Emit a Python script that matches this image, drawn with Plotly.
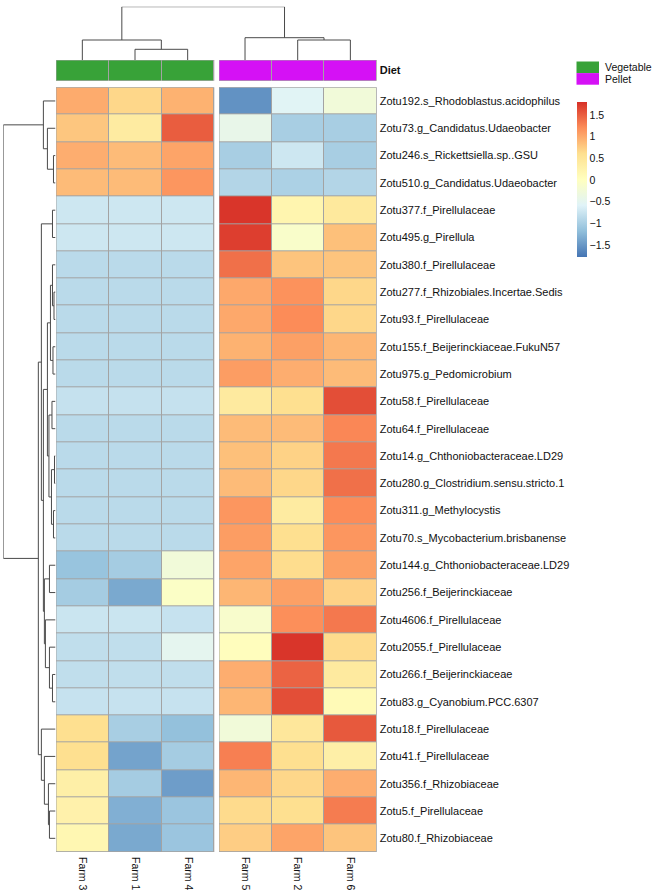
"""
Heatmap of scaled Zotu abundances by farm, pheatmap style
"""
import plotly.graph_objects as go

W, H = 654, 893
FONT = "Liberation Sans, Arial, sans-serif"

farms_left = ["Farm 3", "Farm 1", "Farm 4"]
farms_right = ["Farm 5", "Farm 2", "Farm 6"]
diet_left = ["Vegetable", "Vegetable", "Vegetable"]
diet_right = ["Pellet", "Pellet", "Pellet"]

otus = [
    "Zotu192.s_Rhodoblastus.acidophilus",
    "Zotu73.g_Candidatus.Udaeobacter",
    "Zotu246.s_Rickettsiella.sp..GSU",
    "Zotu510.g_Candidatus.Udaeobacter",
    "Zotu377.f_Pirellulaceae",
    "Zotu495.g_Pirellula",
    "Zotu380.f_Pirellulaceae",
    "Zotu277.f_Rhizobiales.Incertae.Sedis",
    "Zotu93.f_Pirellulaceae",
    "Zotu155.f_Beijerinckiaceae.FukuN57",
    "Zotu975.g_Pedomicrobium",
    "Zotu58.f_Pirellulaceae",
    "Zotu64.f_Pirellulaceae",
    "Zotu14.g_Chthoniobacteraceae.LD29",
    "Zotu280.g_Clostridium.sensu.stricto.1",
    "Zotu311.g_Methylocystis",
    "Zotu70.s_Mycobacterium.brisbanense",
    "Zotu144.g_Chthoniobacteraceae.LD29",
    "Zotu256.f_Beijerinckiaceae",
    "Zotu4606.f_Pirellulaceae",
    "Zotu2055.f_Pirellulaceae",
    "Zotu266.f_Beijerinckiaceae",
    "Zotu83.g_Cyanobium.PCC.6307",
    "Zotu18.f_Pirellulaceae",
    "Zotu41.f_Pirellulaceae",
    "Zotu356.f_Rhizobiaceae",
    "Zotu5.f_Pirellulaceae",
    "Zotu80.f_Rhizobiaceae",
]

# row-scaled values, columns Farm 3, Farm 1, Farm 4
vals_left = [
    [1.00, 0.68, 0.95],
    [0.80, 0.40, 1.52],
    [0.98, 0.88, 1.05],
    [0.88, 0.88, 1.15],
    [-0.72, -0.72, -0.72],
    [-0.72, -0.72, -0.72],
    [-0.86, -0.86, -0.86],
    [-0.86, -0.86, -0.86],
    [-0.86, -0.86, -0.86],
    [-0.86, -0.86, -0.86],
    [-0.86, -0.86, -0.86],
    [-0.78, -0.78, -0.78],
    [-0.86, -0.86, -0.86],
    [-0.86, -0.86, -0.86],
    [-0.86, -0.86, -0.86],
    [-0.86, -0.86, -0.86],
    [-0.86, -0.86, -0.86],
    [-1.12, -1.02, -0.25],
    [-1.02, -1.35, -0.05],
    [-0.74, -0.74, -0.77],
    [-0.82, -0.82, -0.48],
    [-0.82, -0.82, -0.82],
    [-0.77, -0.77, -0.77],
    [0.62, -1.00, -1.15],
    [0.62, -1.40, -1.02],
    [0.32, -1.02, -1.45],
    [0.28, -1.30, -1.10],
    [0.18, -1.35, -1.10],
]

# row-scaled values, columns Farm 5, Farm 2, Farm 6
vals_right = [
    [-1.54, -0.55, -0.25],
    [-0.42, -1.00, -1.00],
    [-1.00, -0.72, -1.00],
    [-0.92, -0.97, -0.92],
    [1.78, 0.22, 0.45],
    [1.72, -0.10, 0.85],
    [1.40, 0.82, 0.82],
    [1.02, 1.18, 0.68],
    [1.02, 1.22, 0.68],
    [0.95, 1.08, 0.92],
    [1.10, 0.98, 0.88],
    [0.42, 0.62, 1.62],
    [0.88, 0.88, 1.25],
    [0.85, 0.72, 1.35],
    [0.88, 0.68, 1.40],
    [1.15, 0.40, 1.22],
    [1.10, 0.62, 1.15],
    [1.05, 0.64, 1.08],
    [0.92, 1.08, 0.72],
    [-0.12, 1.20, 1.35],
    [0.05, 1.78, 0.65],
    [0.98, 1.48, 0.42],
    [0.92, 1.62, 0.12],
    [-0.25, 0.48, 1.55],
    [1.30, 0.62, 0.32],
    [0.92, 0.68, 0.98],
    [0.65, 0.62, 1.32],
    [0.75, 1.05, 0.82],
]

# hierarchical clustering trees: (left, right, height), leaves = display index
row_tree = (
    (0, (1, (2, 3, 2.0), 8.0), 12.0),
    (
        (
            (4, 5, 3.0),
            (
                (
                    ((6, (7, 8, 1.5), 3.0), (9, 10, 2.5), 5.0),
                    ((11, 12, 3.5), ((13, 14, 1.0), (15, 16, 2.0), 4.0), 6.5),
                    8.0,
                ),
                ((17, 18, 6.0), (19, (20, (21, 22, 3.0), 6.0), 10.0), 11.0),
                12.0,
            ),
            14.0,
        ),
        (23, (24, (25, (26, 27, 6.0), 7.0), 11.0), 14.0),
        17.0,
    ),
    51.7,
)
col_tree = ((0, (1, 2, 10.7), 20.0), (3, (4, 5, 20.0), 22.3), 53.3)

palette = ["#4575B4", "#91BFDB", "#E0F3F8", "#FFFFBF", "#FEE090", "#FC8D59", "#D73027"]
diet_colors = {"Vegetable": "#38A238", "Pellet": "#D511F5"}
zmin, zmax = -1.77, 1.81
GAP = 4.7 / 52.7  # gap between the two column blocks, in cell units


def dendro(tree, pos):
    xs, ys = [], []

    def walk(node):
        if isinstance(node, int):
            return pos[node], 0.0
        l, r, h = node
        pl, hl = walk(l)
        pr, hr = walk(r)
        xs.extend([pl, pl, pr, pr, None])
        ys.extend([hl, h, h, hr, None])
        return (pl + pr) / 2, h

    walk(tree)
    return xs, ys


def px_x(p):
    return p / W


def px_y(p):
    return 1 - p / H


rows = list(range(len(otus)))
fig = go.Figure()

fig.add_trace(go.Heatmap(z=vals_left, x=[0, 1, 2], y=rows, coloraxis="coloraxis",
                         xgap=1, ygap=1, hoverinfo="skip", xaxis="x", yaxis="y"))
fig.add_trace(go.Heatmap(z=vals_right, x=[0, 1, 2], y=rows, coloraxis="coloraxis",
                         xgap=1, ygap=1, hoverinfo="skip", xaxis="x2", yaxis="y"))

dscale = [[0, diet_colors["Vegetable"]], [1, diet_colors["Pellet"]]]
for d, xa in [(diet_left, "x"), (diet_right, "x2")]:
    fig.add_trace(go.Heatmap(z=[[0 if v == "Vegetable" else 1 for v in d]], x=[0, 1, 2], y=[0],
                             colorscale=dscale, zmin=0, zmax=1, showscale=False,
                             xgap=1, ygap=0, hoverinfo="skip", xaxis=xa, yaxis="y2"))

# column dendrogram
cpos = [0, 1, 2, 3 + GAP, 4 + GAP, 5 + GAP]
cx, cy = dendro(col_tree, cpos)
fig.add_trace(go.Scatter(x=cx, y=cy, mode="lines", line=dict(color="#4a4a4a", width=1),
                         hoverinfo="skip", showlegend=False, xaxis="x3", yaxis="y3"))

# row dendrogram
ry, rx = dendro(row_tree, rows)
fig.add_trace(go.Scatter(x=rx, y=ry, mode="lines", line=dict(color="#4a4a4a", width=1),
                         hoverinfo="skip", showlegend=False, xaxis="x4", yaxis="y4"))

grey = "#A3A3A3"
shapes = []
for xr, yr, y0, y1 in [("x", "y", -0.5, 27.5), ("x2", "y", -0.5, 27.5),
                       ("x", "y2", -0.5, 0.5), ("x2", "y2", -0.5, 0.5)]:
    shapes.append(dict(type="rect", xref=xr, yref=yr, x0=-0.5, x1=2.5, y0=y0, y1=y1,
                       fillcolor=grey, line=dict(width=0), layer="below"))
    shapes.append(dict(type="rect", xref=xr, yref=yr, x0=-0.5, x1=2.5, y0=y0, y1=y1,
                       fillcolor="rgba(0,0,0,0)", line=dict(color=grey, width=1), layer="above"))

# diet legend
annotations = []
for i, name in enumerate(["Vegetable", "Pellet"]):
    top = 61.5 + i * 11.6
    shapes.append(dict(type="rect", xref="paper", yref="paper",
                       x0=px_x(576.5), x1=px_x(599), y0=px_y(top + 11.6), y1=px_y(top),
                       fillcolor=diet_colors[name], line=dict(width=0)))
    annotations.append(dict(text=name, xref="paper", yref="paper", x=px_x(603), y=px_y(top + 5.8),
                            xanchor="left", yanchor="middle", showarrow=False,
                            font=dict(size=10.5, color="#111")))

heat_dom_y = [px_y(852), px_y(87.3)]
noax = dict(visible=False, showgrid=False, zeroline=False, automargin=False)
rowfont = dict(size=11, color="#111", family=FONT)
colfont = dict(size=10.5, color="#111", family=FONT)
base = dict(showgrid=False, zeroline=False, showline=False, ticks="", automargin=False)

fig.update_layout(
    width=W, height=H,
    margin=dict(l=0, r=0, t=0, b=0, autoexpand=False),
    paper_bgcolor="white", plot_bgcolor="white",
    font=dict(family=FONT),
    showlegend=False,
    shapes=shapes,
    annotations=annotations,
    coloraxis=dict(
        colorscale=[[i / 6, c] for i, c in enumerate(palette)],
        cmin=zmin, cmax=zmax,
        colorbar=dict(
            x=px_x(576.7), xanchor="left", xpad=0, ypad=0,
            y=px_y(101.7), yanchor="top",
            len=(zmax - zmin) * 43.3, lenmode="pixels",
            thickness=10, thicknessmode="pixels", outlinewidth=0,
            ticks="",
            tickvals=[-1.5, -1, -0.5, 0, 0.5, 1, 1.5],
            ticktext=["\u22121.5", "\u22121", "\u22120.5", "0", "0.5", "1", "1.5"],
            tickfont=dict(size=10.5, color="#111"),
        ),
    ),
    xaxis=dict(domain=[px_x(56), px_x(214.3)], range=[-0.5, 2.5], anchor="y",
               tickvals=[0, 1, 2], ticktext=farms_left, tickangle=90,
               tickfont=colfont, ticklabelstandoff=4, **base),
    xaxis2=dict(domain=[px_x(219), px_x(376.7)], range=[-0.5, 2.5], anchor="y",
                tickvals=[0, 1, 2], ticktext=farms_right, tickangle=90,
                tickfont=colfont, ticklabelstandoff=4, **base),
    yaxis=dict(domain=heat_dom_y, range=[27.5, -0.5], anchor="x2", side="right",
               tickvals=rows, ticktext=otus, ticklabelstandoff=2, tickfont=rowfont, **base),
    yaxis2=dict(domain=[px_y(80.7), px_y(60)], range=[0.5, -0.5], anchor="x2", side="right",
                tickvals=[0], ticktext=["<b>Diet</b>"], ticklabelstandoff=2,
                tickfont=dict(size=11, color="#111", family=FONT), **base),
    xaxis3=dict(domain=[px_x(56), px_x(376.7)], range=[-0.5, 5.5 + GAP], anchor="y3", **noax),
    yaxis3=dict(domain=[px_y(60), px_y(6.7)], range=[0, 53.3], anchor="x3", **noax),
    xaxis4=dict(domain=[px_x(3.3), px_x(55.5)], range=[51.7, 0], anchor="y4", **noax),
    yaxis4=dict(domain=heat_dom_y, range=[27.5, -0.5], anchor="x4", **noax),
)

fig.write_html("out.html", config={"displayModeBar": False},
               post_script="document.body.style.margin='0';")
